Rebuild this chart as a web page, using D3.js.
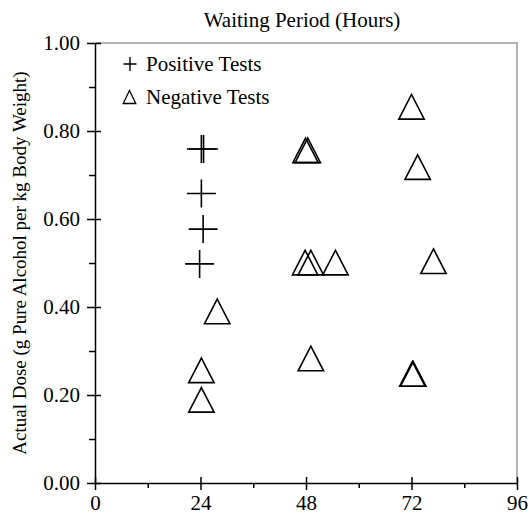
<!DOCTYPE html>
<html>
<head>
<meta charset="utf-8">
<script src="https://cdn.jsdelivr.net/npm/d3@7"></script>
<style>
  body { margin: 0; background: #fff; }
  svg { display: block; font-family: "Liberation Serif", "Times New Roman", serif; }
</style>
</head>
<body>
<script>
// tick values
const hourTicks = [0, 24, 48, 72, 96];
const hourMinor = [12, 36, 60, 84];
const doseTicks = [0, 0.2, 0.4, 0.6, 0.8, 1.0];
const doseMinor = [0.1, 0.3, 0.5, 0.7, 0.9];

// positive tests (+)
const positiveHours = [24.2, 24.7, 24.2, 24.6, 23.8];
const positiveDose  = [0.759, 0.759, 0.658, 0.577, 0.498];

// negative tests (triangles)
const negativeHours = [72.0, 73.4, 77.0, 72.2, 72.4, 47.9, 48.4, 47.8, 49.1, 54.7, 27.8, 49.1, 24.2, 24.2];
const negativeDose  = [0.855, 0.718, 0.504, 0.248, 0.248, 0.756, 0.756, 0.501, 0.501, 0.501, 0.390, 0.283, 0.256, 0.189];

const w = 530,
      h = 515,
      padLeft = 95,
      padRight = 517,
      padTop = 43,
      padBottom = 483;

const x = d3.scaleLinear().domain([0, 96]).range([padLeft, padRight]);
const y = d3.scaleLinear().domain([0, 1]).range([padBottom, padTop]);

const svg = d3.select("body")
              .append("svg")
              .attr("width", w)
              .attr("height", h);

// frame (top + right, gray)
svg.append("path")
   .attr("d", "M" + padLeft + "," + padTop + "H" + padRight + "V" + padBottom)
   .attr("fill", "none")
   .attr("stroke", "#9a9a9a")
   .attr("stroke-width", 1.5);

// x axis
const xAxis = svg.append("g")
   .attr("transform", "translate(0," + padBottom + ")")
   .call(d3.axisBottom(x).tickValues(hourTicks).tickSizeInner(7).tickSizeOuter(0).tickPadding(5).tickFormat(d3.format("d")));
xAxis.selectAll(".tick line").attr("y1", -6);

svg.append("g")
   .attr("transform", "translate(0," + padBottom + ")")
   .call(d3.axisBottom(x).tickValues(hourMinor).tickSizeInner(5).tickSizeOuter(0).tickFormat(""))
   .select(".domain").remove();

// y axis
const yAxis = svg.append("g")
   .attr("transform", "translate(" + padLeft + ",0)")
   .call(d3.axisLeft(y).tickValues(doseTicks).tickSizeInner(8).tickSizeOuter(0).tickPadding(7).tickFormat(d3.format(".2f")));
yAxis.selectAll(".tick line").attr("x1", 6);

svg.append("g")
   .attr("transform", "translate(" + padLeft + ",0)")
   .call(d3.axisLeft(y).tickValues(doseMinor).tickSizeInner(6).tickSizeOuter(0).tickFormat(""))
   .select(".domain").remove();

svg.selectAll(".domain, .tick line")
   .attr("stroke", "#000")
   .attr("stroke-width", 1.5);

svg.selectAll(".tick text")
   .attr("font-family", "Liberation Serif")
   .attr("font-size", 21)
   .attr("fill", "#000");

// titles
svg.append("text")
   .text("Waiting Period (Hours)")
   .attr("x", 302)
   .attr("y", 27)
   .attr("text-anchor", "middle")
   .attr("font-size", 21);

svg.append("text")
   .text("Actual Dose (g Pure Alcohol per kg Body Weight)")
   .attr("text-anchor", "middle")
   .attr("font-size", 19)
   .attr("transform", "translate(26," + ((padTop + padBottom) / 2) + ")rotate(-90)");

// markers
const plusPath = "M-14.5,0H14.5M0,-14V14";
const triPath = "M0,-12.3L12.7,12.3L-12.7,12.3Z";

svg.selectAll(".pos")
   .data(positiveHours)
   .enter()
   .append("path")
   .attr("class", "pos")
   .attr("d", plusPath)
   .attr("transform", (d, i) => "translate(" + x(d) + "," + y(positiveDose[i]) + ")")
   .attr("fill", "none")
   .attr("stroke", "#000")
   .attr("stroke-width", 1.6);

svg.selectAll(".neg")
   .data(negativeHours)
   .enter()
   .append("path")
   .attr("class", "neg")
   .attr("d", triPath)
   .attr("transform", (d, i) => "translate(" + x(d) + "," + y(negativeDose[i]) + ")")
   .attr("fill", "none")
   .attr("stroke", "#000")
   .attr("stroke-width", 1.6);

// legend
const legend = svg.append("g");

legend.append("path")
      .attr("d", "M-6.5,0H6.5M0,-7V7")
      .attr("transform", "translate(130,64)")
      .attr("stroke", "#000")
      .attr("stroke-width", 1.4);

legend.append("path")
      .attr("d", "M0,-6.5L6.3,6.5L-6.3,6.5Z")
      .attr("transform", "translate(129.5,97)")
      .attr("fill", "none")
      .attr("stroke", "#000")
      .attr("stroke-width", 1.3);

legend.append("text")
      .attr("x", 146)
      .attr("y", 71)
      .attr("font-size", 21)
      .text("Positive Tests");

legend.append("text")
      .attr("x", 146)
      .attr("y", 104)
      .attr("font-size", 21)
      .text("Negative Tests");
</script>
</body>
</html>
